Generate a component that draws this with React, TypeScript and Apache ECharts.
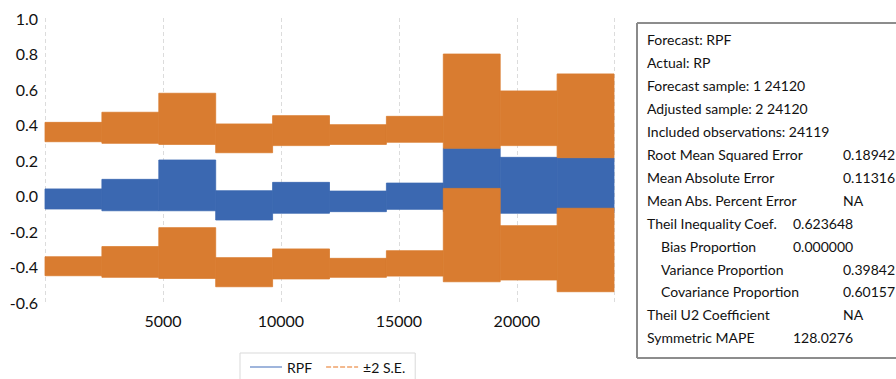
import React, { useEffect, useRef } from "react";
import * as echarts from "echarts";

// Segment boundaries (observation index)
const segStart = [0, 2412, 4824, 7236, 9648, 12060, 14472, 16884, 19296, 21708];
const segEnd = [2412, 4824, 7236, 9648, 12060, 14472, 16884, 19296, 21708, 24120];

// RPF forecast band (range of oscillation in each segment)
const rpfHigh = [0.037, 0.091, 0.2, 0.027, 0.074, 0.025, 0.07, 0.266, 0.215, 0.213];
const rpfLow = [-0.076, -0.086, -0.086, -0.138, -0.1, -0.091, -0.078, -0.09, -0.1, -0.1];

// +2 S.E. band
const upperHigh = [0.412, 0.469, 0.576, 0.403, 0.45, 0.399, 0.446, 0.797, 0.589, 0.685];
const upperLow = [0.303, 0.294, 0.288, 0.241, 0.281, 0.288, 0.3, 0.266, 0.281, 0.213];

// -2 S.E. band
const lowerHigh = [-0.345, -0.288, -0.181, -0.35, -0.301, -0.354, -0.311, 0.04, -0.17, -0.072];
const lowerLow = [-0.452, -0.461, -0.467, -0.514, -0.47, -0.461, -0.454, -0.486, -0.476, -0.542];

const seriesNames = ["RPF", "±2 S.E."];

const statLabels = [
  "Forecast: RPF",
  "Actual: RP",
  "Forecast sample: 1 24120",
  "Adjusted sample: 2 24120",
  "Included observations: 24119",
  "Root Mean Squared Error",
  "Mean Absolute Error",
  "Mean Abs. Percent Error",
  "Theil Inequality Coef.",
  "Bias Proportion",
  "Variance Proportion",
  "Covariance Proportion",
  "Theil U2 Coefficient",
  "Symmetric MAPE",
];
const statValues = ["", "", "", "", "", "0.18942", "0.11316", "NA", "0.623648", "0.000000", "0.39842", "0.60157", "NA", "128.0276"];

// layout of the statistics box (not data)
const statIndent = [0, 0, 0, 0, 0, 0, 0, 0, 0, 1, 1, 1, 0, 0];
const statValueCol = [0, 0, 0, 0, 0, 1, 1, 1, 0, 0, 1, 1, 1, 0];

const BLUE = "#3b68b1";
const ORANGE = "#d97c30";
const FONT = "Lato, 'Open Sans', sans-serif";

export default function App() {
  const ref = useRef<HTMLDivElement>(null);

  useEffect(() => {
    if (!ref.current) return;
    const chart = echarts.init(ref.current, null, { renderer: "svg" });

    const rpfData = segStart.map((s, i) => [s, segEnd[i], rpfLow[i], rpfHigh[i]]);
    const seData = [
      ...segStart.map((s, i) => [s, segEnd[i], upperLow[i], upperHigh[i]]),
      ...segStart.map((s, i) => [s, segEnd[i], lowerLow[i], lowerHigh[i]]),
    ];

    const renderBand = (params: any, api: any) => {
      const p1 = api.coord([api.value(0), api.value(3)]);
      const p2 = api.coord([api.value(1), api.value(2)]);
      const c = api.visual("color");
      return {
        type: "rect",
        shape: { x: p1[0], y: p1[1], width: p2[0] - p1[0], height: p2[1] - p1[1] },
        style: { fill: c, stroke: c, lineWidth: 0.8 },
      };
    };

    const graphics: any[] = [
      {
        type: "rect",
        shape: { x: 637, y: 23, width: 300, height: 335 },
        style: { fill: "#fff", stroke: "#1a1a1a", lineWidth: 1 },
        z: 10,
      },
      {
        type: "line",
        shape: { x1: 637, y1: 23, x2: 637, y2: 358 },
        style: { stroke: "#8a8a8a", lineWidth: 2 },
        z: 11,
      },
    ];
    statLabels.forEach((lab, i) => {
      const y = 39.5 + 22.95 * i;
      graphics.push({
        type: "text",
        x: statIndent[i] ? 661 : 647,
        y,
        style: { text: lab, fill: "#111", font: `14px ${FONT}`, verticalAlign: "middle", align: "left" },
        z: 12,
      });
      if (statValues[i]) {
        graphics.push({
          type: "text",
          x: statValueCol[i] ? 843 : 793,
          y,
          style: { text: statValues[i], fill: "#111", font: `14px ${FONT}`, verticalAlign: "middle", align: "left" },
          z: 12,
        });
      }
    });

    chart.setOption({
      animation: false,
      grid: { left: 45, right: 282, top: 18, bottom: 77, containLabel: false },
      xAxis: {
        type: "value",
        min: 0,
        max: 24120,
        interval: 5000,
        axisLine: { show: false },
        axisTick: { show: false },
        axisLabel: {
          showMinLabel: false,
          showMaxLabel: false,
          color: "#111",
          fontFamily: FONT,
          fontSize: 16,
          margin: 10,
          formatter: (v: number) => String(v),
        },
        splitLine: { show: true, lineStyle: { color: "#dcdcdc", type: [4, 3], width: 1 } },
      },
      yAxis: {
        type: "value",
        min: -0.6,
        max: 1.0,
        interval: 0.2,
        axisLine: { show: false },
        axisTick: { show: false },
        splitLine: { show: false },
        axisLabel: {
          color: "#111",
          fontFamily: FONT,
          fontSize: 16,
          margin: 7,
          formatter: (v: number) => v.toFixed(1),
        },
      },
      legend: {
        left: 240,
        top: 353,
        padding: [7, 10, 12, 10],
        borderColor: "#d9d9d9",
        borderWidth: 1,
        itemWidth: 32,
        itemHeight: 2,
        itemGap: 14,
        textStyle: { fontFamily: FONT, fontSize: 14, color: "#111" },
        data: [
          { name: seriesNames[0], icon: "path://M0,0H32V1.5H0Z", itemStyle: { color: "#7f9dd0" } },
          {
            name: seriesNames[1],
            icon: "path://M0,0H5V1.5H0Z M7,0H12V1.5H7Z M14,0H19V1.5H14Z M21,0H26V1.5H21Z M28,0H32V1.5H28Z",
            itemStyle: { color: "#efa26a" },
          },
        ],
      },
      series: [
        {
          name: seriesNames[0],
          type: "custom",
          renderItem: renderBand,
          encode: { x: [0, 1], y: [2, 3] },
          itemStyle: { color: BLUE },
          data: rpfData,
          z: 2,
        },
        {
          name: seriesNames[1],
          type: "custom",
          renderItem: renderBand,
          encode: { x: [0, 1], y: [2, 3] },
          itemStyle: { color: ORANGE },
          data: seData,
          z: 3,
        },
      ],
      graphic: graphics,
    });

    return () => chart.dispose();
  }, []);

  return (
    <div
      ref={ref}
      style={{ position: "absolute", left: 0, top: 0, width: 896, height: 379, background: "#fff" }}
    />
  );
}
